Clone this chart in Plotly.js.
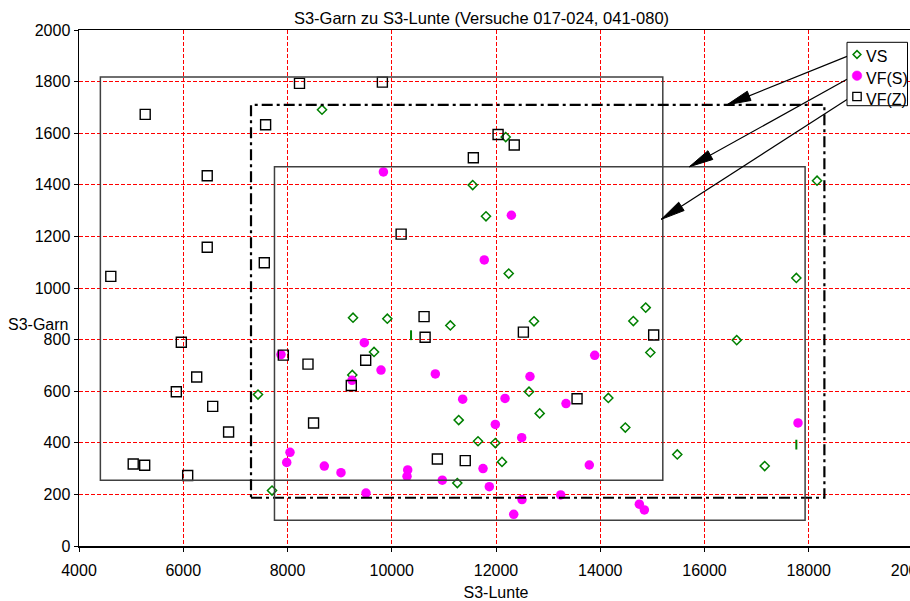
<!DOCTYPE html>
<html>
<head>
<meta charset="utf-8">
<script src="https://cdn.plot.ly/plotly-3.0.1.min.js"></script>
<style>
html, body { margin: 0; padding: 0; overflow: hidden; background: #fff; }
#chart { width: 920px; height: 601px; }
</style>
</head>
<body>
<div id="chart"></div>
<script>
// ---- data ----
const titleText = 'S3-Garn zu S3-Lunte (Versuche 017-024, 041-080)';
const xTitle = 'S3-Lunte';
const yTitle = 'S3-Garn';
const seriesNames = ['VS', 'VF(S)', 'VF(Z)'];

const vsX = [8662, 12186, 11553, 11808, 12244, 18159, 17762, 16618, 17155, 9257, 9915, 11124, 9660, 9243, 11284, 11655, 7434, 7703, 11258, 12729, 14872, 14635, 14961, 12633, 14155, 12838, 14481, 11987, 12115, 15478];
const vsY = [1691, 1585, 1399, 1278, 1056, 1416, 1039, 798, 310, 885, 881, 855, 752, 663, 488, 406, 587, 215, 244, 871, 924, 872, 750, 598, 574, 514, 459, 399, 326, 355];
const vsBarX = [10370, 17762];
const vsBarY = [817, 393];

const vfsX = [9840, 12295, 11775, 9474, 9794, 10836, 11361, 9238, 7875, 8048, 7985, 8706, 9026, 9506, 10306, 10293, 10970, 11751, 11872, 12493, 13790, 12499, 13241, 12340, 14750, 14846, 13894, 12652, 12173, 13343, 11987, 17794];
const vfsY = [1450, 1282, 1109, 788, 682, 667, 569, 642, 742, 363, 324, 310, 284, 205, 295, 270, 255, 300, 230, 420, 314, 180, 198, 123, 162, 140, 739, 657, 572, 552, 471, 477];

const vfzX = [4610, 5270, 6460, 6460, 7580, 7555, 8230, 9820, 10180, 12040, 12350, 11565, 5963, 6258, 5867, 6565, 6870, 5040, 5260, 6085, 7920, 8393, 8500, 9500, 9224, 10620, 10640, 10875, 11410, 12525, 15025, 13555];
const vfzY = [1045, 1673, 1435, 1158, 1633, 1098, 1793, 1798, 1209, 1595, 1554, 1505, 790, 655, 598, 541, 442, 318, 313, 273, 740, 705, 477, 720, 622, 889, 809, 337, 331, 829, 818, 571];

// region boxes: VF(Z), VS, VF(S)
const regionX0 = [4410, 7300, 7750];
const regionX1 = [15200, 18300, 17930];
const regionY0 = [255, 187, 100];
const regionY1 = [1818, 1710, 1470];

// arrows from legend entries (VS, VF(S), VF(Z)) to their regions
const arrowTailX = [18734, 18734, 18734];
const arrowTailY = [1898, 1809, 1731];
const arrowTipX = [16430, 15710, 15170];
const arrowTipY = [1710, 1470, 1266];

const xRange = [4000, 20000];
const yRange = [0, 2000];

// ---- layout geometry ----
const W = 920, H = 601;
const M = { l: 79, r: 7, t: 30, b: 55 };
const plotW = W - M.l - M.r, plotH = H - M.t - M.b;
const FONT = 'Liberation Sans, Arial, sans-serif';
const px2paperX = p => (p - M.l) / plotW;
const px2paperY = p => (H - M.b - p) / plotH;

// legend box geometry (pixels)
const legBox = { x0: 847, x1: 907.5, y0: 42.3, y1: 105.7 };
const legSymX = 857, legTextX = 865;
const legSymY = [54.5, 75.7, 96.5];
const legTextY = [57, 78, 99];

const markerStyles = [
  { symbol: 'diamond-open', size: 7, color: '#008000', line: { width: 1.5 } },
  { symbol: 'circle', size: 9.5, color: '#ff00ff', line: { width: 0 } },
  { symbol: 'square-open', size: 10, color: '#000000', line: { width: 1.4 } }
];

const traces = [
  { type: 'scatter', mode: 'markers', name: seriesNames[0], x: vsX, y: vsY, marker: markerStyles[0] },
  { type: 'scatter', mode: 'markers', name: seriesNames[1], x: vfsX, y: vfsY, marker: markerStyles[1] },
  { type: 'scatter', mode: 'markers', name: seriesNames[2], x: vfzX, y: vfzY, marker: markerStyles[2] },
  { type: 'scatter', mode: 'markers', name: seriesNames[0], x: vsBarX, y: vsBarY, showlegend: false,
    marker: { symbol: 'line-ns-open', size: 7, color: '#008000', line: { width: 2 } } }
];

const regionStyles = [
  { color: '#404040', width: 1.5, dash: 'solid' },
  { color: '#000000', width: 2.2, dash: '11px,4px,3px,4px' },
  { color: '#404040', width: 1.5, dash: 'solid' }
];

const shapes = [];
regionX0.forEach((x0, i) => {
  shapes.push({ type: 'rect', xref: 'x', yref: 'y', x0: x0, x1: regionX1[i], y0: regionY0[i], y1: regionY1[i],
    line: regionStyles[i], fillcolor: 'rgba(0,0,0,0)', layer: 'above' });
});

const sx = plotW / (xRange[1] - xRange[0]);
const sy = plotH / (yRange[1] - yRange[0]);
const headLen = 24, headHalf = 5;
arrowTailX.forEach((tx, i) => {
  shapes.push({ type: 'line', xref: 'x', yref: 'y', x0: tx, y0: arrowTailY[i], x1: arrowTipX[i], y1: arrowTipY[i],
    line: { color: '#000', width: 1.2 }, layer: 'above' });
  const dx = (arrowTipX[i] - tx) * sx, dy = (arrowTipY[i] - arrowTailY[i]) * sy;
  const len = Math.hypot(dx, dy);
  const ux = dx / len, uy = dy / len;
  const bx = -ux * headLen, by = -uy * headLen;
  const nx = -uy, ny = ux;
  const p1x = bx + nx * headHalf, p1y = by + ny * headHalf;
  const p2x = bx - nx * headHalf, p2y = by - ny * headHalf;
  shapes.push({ type: 'path', xref: 'x', yref: 'y', xsizemode: 'pixel', ysizemode: 'pixel',
    xanchor: arrowTipX[i], yanchor: arrowTipY[i],
    path: `M0,0 L${p1x.toFixed(2)},${p1y.toFixed(2)} L${p2x.toFixed(2)},${p2y.toFixed(2)} Z`,
    fillcolor: '#000', line: { color: '#000', width: 1 }, layer: 'above' });
});

// legend box
shapes.push({ type: 'rect', xref: 'paper', yref: 'paper',
  x0: px2paperX(legBox.x0), x1: px2paperX(legBox.x1), y0: px2paperY(legBox.y1), y1: px2paperY(legBox.y0),
  fillcolor: '#fff', line: { color: '#000', width: 1 }, layer: 'above' });
// legend symbols (pixel-sized shapes anchored in the legend box)
const legAnchor = i => ({ xref: 'paper', yref: 'paper', xsizemode: 'pixel', ysizemode: 'pixel',
  xanchor: px2paperX(legSymX), yanchor: px2paperY(legSymY[i]), layer: 'above' });
shapes.push(Object.assign(legAnchor(0), { type: 'path', path: 'M0,3.9 L3.9,0 L0,-3.9 L-3.9,0 Z',
  fillcolor: 'rgba(0,0,0,0)', line: { color: '#008000', width: 1.5 } }));
shapes.push(Object.assign(legAnchor(1), { type: 'circle', x0: -4.8, x1: 4.8, y0: -4.8, y1: 4.8,
  fillcolor: '#ff00ff', line: { color: '#ff00ff', width: 0.5 } }));
shapes.push(Object.assign(legAnchor(2), { type: 'rect', x0: -4.2, x1: 4.2, y0: -4.2, y1: 4.2,
  fillcolor: 'rgba(0,0,0,0)', line: { color: '#000', width: 1.3 } }));

const axisCommon = {
  showline: true, linecolor: '#000', linewidth: 1.5, mirror: true,
  ticks: 'outside', ticklen: 4, tickcolor: '#000', tickwidth: 1,
  showgrid: true, gridcolor: '#ff0000', gridwidth: 1, griddash: '4px,2px',
  zeroline: false, tickformat: 'd', ticklabeloverflow: 'allow',
  tickfont: { family: FONT, size: 16, color: '#000' }
};

const annotations = [
  { text: yTitle, xref: 'paper', yref: 'y', x: px2paperX(70), y: 858, xanchor: 'right', yanchor: 'middle',
    showarrow: false, font: { family: FONT, size: 16, color: '#000' } }
];
seriesNames.forEach((n, i) => {
  annotations.push({ text: n, xref: 'paper', yref: 'paper', x: px2paperX(legTextX), y: px2paperY(legTextY[i]),
    xanchor: 'left', yanchor: 'middle', showarrow: false, borderpad: 0,
    font: { family: FONT, size: 16, color: '#000' } });
});

const layout = {
  width: W, height: H,
  margin: M,
  paper_bgcolor: '#fff', plot_bgcolor: '#fff',
  font: { family: FONT, size: 16, color: '#000' },
  title: { text: titleText, x: 481.5 / W, xref: 'container', xanchor: 'center',
    y: 1 - 18 / H, yref: 'container', yanchor: 'middle', font: { family: FONT, size: 16.5, color: '#000' } },
  xaxis: Object.assign({}, axisCommon, { range: xRange, dtick: 2000, tick0: 4000, ticklabelstandoff: 5,
    title: { text: xTitle, font: { family: FONT, size: 16, color: '#000' }, standoff: 9 } }),
  yaxis: Object.assign({}, axisCommon, { range: yRange, dtick: 200, tick0: 0 }),
  showlegend: false,
  shapes: shapes,
  annotations: annotations
};

Plotly.newPlot('chart', traces, layout, { displayModeBar: false, staticPlot: true });
</script>
</body>
</html>
